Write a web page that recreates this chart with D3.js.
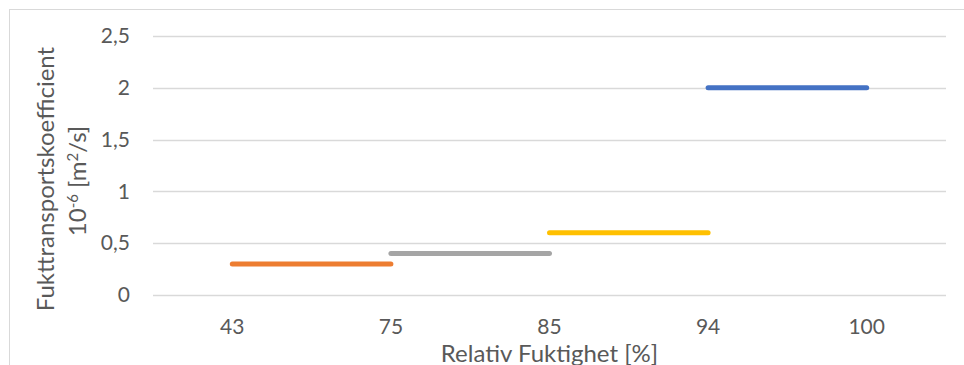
<!DOCTYPE html>
<html>
<head>
<meta charset="utf-8">
<script src="https://cdn.jsdelivr.net/npm/d3@7"></script>
<style>
  html, body { margin: 0; padding: 0; background: #fff; }
  svg { display: block; }
  text { font-family: Lato, "Open Sans", sans-serif; fill: #595959; }
</style>
</head>
<body>
<svg id="chart" width="964" height="365"></svg>
<script>
// Relative humidity classes (category axis)
const categories = ["43", "75", "85", "94", "100"];
// Moisture transport coefficient per humidity interval, ×10^-6 m²/s
const series1 = [null, null, null, 2, 2];      // 94–100 %
const series2 = [0.3, 0.3, null, null, null];  // 43–75 %
const series3 = [null, 0.4, 0.4, null, null];  // 75–85 %
const series4 = [null, null, 0.6, 0.6, null];  // 85–94 %
const yTicks = [0, 0.5, 1, 1.5, 2, 2.5];

const seriesList = [series1, series2, series3, series4];
const colors = ["#4472C4", "#ED7D31", "#A5A5A5", "#FFC000"];

const svg = d3.select("#chart");
const plot = { left: 153, right: 946, top: 36, bottom: 295 };

// Chart area border
svg.append("rect")
  .attr("x", 9.5).attr("y", 9.5)
  .attr("width", 970).attr("height", 400)
  .attr("fill", "none").attr("stroke", "#D9D9D9").attr("stroke-width", 1);

const x = d3.scaleBand().domain(categories).range([plot.left, plot.right]).padding(0);
const y = d3.scaleLinear().domain([0, 2.5]).range([plot.bottom, plot.top]);

// Horizontal gridlines
svg.append("g")
  .selectAll("line")
  .data(yTicks)
  .join("line")
  .attr("x1", plot.left).attr("x2", plot.right)
  .attr("y1", d => Math.round(y(d)) + 0.5).attr("y2", d => Math.round(y(d)) + 0.5)
  .attr("stroke", "#D9D9D9").attr("stroke-width", 1.5);

// Y axis tick labels
const fmt = d => String(d).replace(".", ",");
const yAxis = d3.axisLeft(y).tickValues(yTicks).tickFormat(fmt).tickSize(0).tickPadding(0);
const yG = svg.append("g").attr("transform", `translate(${plot.left - 23},0)`).call(yAxis);
yG.select(".domain").remove();
yG.selectAll("text").style("font-size", "21px").attr("fill", "#595959").attr("font-family", "Lato, sans-serif");

// X axis category labels
const xAxis = d3.axisBottom(x).tickSize(0).tickPadding(0);
const xG = svg.append("g").attr("transform", `translate(0,${plot.bottom})`).call(xAxis);
xG.select(".domain").remove();
xG.selectAll("text")
  .attr("y", 39).attr("dy", null)
  .style("font-size", "21px").attr("fill", "#595959").attr("font-family", "Lato, sans-serif");

// Series lines
const line = d3.line()
  .defined(d => d.v !== null)
  .x(d => x(d.c) + x.bandwidth() / 2)
  .y(d => y(d.v));

seriesList.forEach((s, i) => {
  const pts = categories.map((c, j) => ({ c, v: s[j] }));
  svg.append("path")
    .datum(pts)
    .attr("d", line)
    .attr("fill", "none")
    .attr("stroke", colors[i])
    .attr("stroke-width", 5)
    .attr("stroke-linecap", "round");
});

// Axis titles
svg.append("text")
  .attr("x", (plot.left + plot.right) / 2)
  .attr("y", 362)
  .attr("text-anchor", "middle")
  .style("font-size", "24px")
  .text("Relativ Fuktighet [%]");

const yTitle = svg.append("text")
  .attr("transform", "rotate(-90)")
  .attr("text-anchor", "middle")
  .style("font-size", "24px");
yTitle.append("tspan")
  .attr("x", -179).attr("y", 54)
  .text("Fukttransportskoefficient");
const l2 = yTitle.append("tspan").attr("x", -181).attr("y", 86);
l2.append("tspan").text("10");
l2.append("tspan").attr("dy", -8).style("font-size", "15px").text("-6");
l2.append("tspan").attr("dy", 8).text(" [m");
l2.append("tspan").attr("dy", -8).style("font-size", "15px").text("2");
l2.append("tspan").attr("dy", 8).text("/s]");
</script>
</body>
</html>
